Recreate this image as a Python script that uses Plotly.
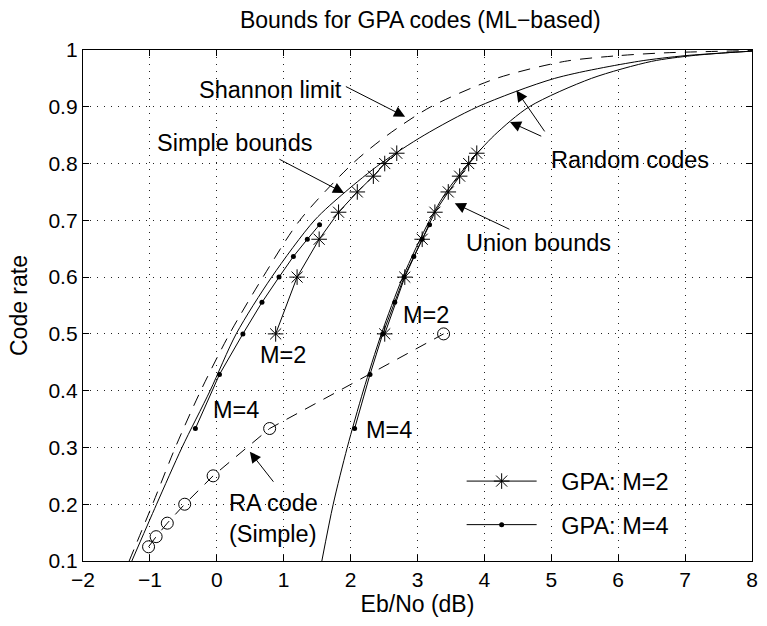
import plotly.graph_objects as go

# ---- data: Eb/No (dB) required for each code rate ----
# Shannon limit (binary-input AWGN channel)
shannon_rate = [0.10, 0.20, 0.30, 0.40, 0.50, 0.60, 0.70, 0.80, 0.85, 0.90, 0.95, 0.98, 0.99, 0.995, 0.999]
shannon_ebno = [-1.31, -0.96, -0.62, -0.24, 0.19, 0.69, 1.24, 2.03, 2.55, 3.20, 4.18, 5.20, 6.00, 6.70, 8.00]

# Random codes: simple bound and union bound
random_rate = [0.10, 0.20, 0.30, 0.40, 0.50, 0.60, 0.70, 0.75, 0.80, 0.85, 0.90, 0.95, 0.98, 0.99, 0.995, 0.998]
random_simple_ebno = [-1.27, -0.90, -0.52, -0.10, 0.29, 0.82, 1.46, 1.92, 2.45, 3.10, 3.90, 5.05, 6.30, 7.00, 7.60, 8.00]
random_union_ebno = [1.57, 1.74, 1.95, 2.19, 2.46, 2.78, 3.18, 3.43, 3.76, 4.15, 4.67, 5.60, 6.50, 7.10, 7.60, 8.00]

# GPA codes, M=2 (rate n/(n+2)) and M=4 (rate n/(n+4))
gpa2_rate = [2/4, 3/5, 4/6, 5/7, 6/8, 7/9, 8/10, 9/11]
gpa2_simple_ebno = [0.88, 1.20, 1.53, 1.82, 2.10, 2.34, 2.51, 2.69]
gpa2_union_ebno = [2.51, 2.81, 3.07, 3.26, 3.46, 3.63, 3.765, 3.886]

gpa4_rate = [2/6, 3/7, 4/8, 5/9, 6/10, 7/11, 8/12, 9/13]
gpa4_simple_ebno = [-0.32, 0.04, 0.39, 0.675, 0.93, 1.145, 1.353, 1.536]
gpa4_union_ebno = [2.06, 2.29, 2.48, 2.66, 2.80, 2.945, 3.07, 3.18]

# RA codes (simple bound)
ra_rate = [1/8, 1/7, 1/6, 1/5, 1/4, 1/3, 1/2]
ra_ebno = [-1.02, -0.907, -0.74, -0.48, -0.055, 0.79, 3.39]

x_ticks = [-2, -1, 0, 1, 2, 3, 4, 5, 6, 7, 8]
y_ticks = [0.1, 0.2, 0.3, 0.4, 0.5, 0.6, 0.7, 0.8, 0.9, 1.0]

FONT = "Liberation Sans, Arial, Helvetica, sans-serif"
BLACK = "#000000"
DASH = "12px,9px"
PAD = "\u00a0" * 3   # gap between legend sample and legend text
ANN = 23.5           # annotation / legend text size
AX = 23              # title and axis-title size
TICK = 21            # tick label size

fig = go.Figure()

fig.add_trace(go.Scatter(x=shannon_ebno, y=shannon_rate, mode="lines", showlegend=False,
                         line=dict(color=BLACK, width=1, dash=DASH, shape="spline", smoothing=0.8)))
fig.add_trace(go.Scatter(x=random_simple_ebno, y=random_rate, mode="lines", showlegend=False,
                         line=dict(color=BLACK, width=1, shape="spline", smoothing=0.8)))
fig.add_trace(go.Scatter(x=random_union_ebno, y=random_rate, mode="lines", showlegend=False,
                         line=dict(color=BLACK, width=1, shape="spline", smoothing=0.8)))

star = dict(symbol="asterisk-open", size=13, color=BLACK, line=dict(color=BLACK, width=1))
dot = dict(symbol="circle", size=5, color=BLACK)

fig.add_trace(go.Scatter(x=gpa2_simple_ebno, y=gpa2_rate, mode="lines+markers", name=PAD + "GPA: M=2",
                         legendgroup="m2", line=dict(color=BLACK, width=1), marker=star))
fig.add_trace(go.Scatter(x=gpa2_union_ebno, y=gpa2_rate, mode="lines+markers", name=PAD + "GPA: M=2",
                         legendgroup="m2", showlegend=False, line=dict(color=BLACK, width=1), marker=star))
fig.add_trace(go.Scatter(x=gpa4_simple_ebno, y=gpa4_rate, mode="lines+markers", name=PAD + "GPA: M=4",
                         legendgroup="m4", line=dict(color=BLACK, width=1), marker=dot))
fig.add_trace(go.Scatter(x=gpa4_union_ebno, y=gpa4_rate, mode="lines+markers", name=PAD + "GPA: M=4",
                         legendgroup="m4", showlegend=False, line=dict(color=BLACK, width=1), marker=dot))

fig.add_trace(go.Scatter(x=ra_ebno, y=ra_rate, mode="lines+markers", showlegend=False,
                         line=dict(color=BLACK, width=1, dash=DASH),
                         marker=dict(symbol="circle-open", size=12, color=BLACK, line=dict(width=1))))

# ---- annotations ----
arrows = [
    # (tail x, tail y, tip x, tip y)
    (1.907, 0.937, 2.815, 0.8825),   # Shannon limit
    (0.913, 0.809, 1.902, 0.748),    # Simple bounds
    (4.916, 0.854, 4.479, 0.9287),   # Random codes (upper)
    (4.872, 0.847, 4.383, 0.8732),   # Random codes (lower)
    (4.397, 0.683, 3.557, 0.730),    # Union bounds
    (0.864, 0.237, 0.494, 0.2925),   # RA code
]
for tx, ty, hx, hy in arrows:
    fig.add_annotation(x=hx, y=hy, ax=tx, ay=ty, xref="x", yref="y", axref="x", ayref="y",
                       text="", showarrow=True, arrowhead=2, arrowsize=2.2, arrowwidth=1,
                       arrowcolor=BLACK, standoff=0, startstandoff=0)

labels = [
    # (x, y, text, xanchor)
    (1.907, 0.9296, "Shannon limit", "right"),
    (-0.925, 0.8362, "Simple bounds", "left"),
    (4.961, 0.8063, "Random codes", "left"),
    (3.701, 0.660, "Union bounds", "left"),
    (0.147, 0.1757, "RA code<br>(Simple)", "left"),
    (0.617, 0.463, "M=2", "left"),
    (-0.08, 0.366, "M=4", "left"),
    (2.752, 0.533, "M=2", "left"),
    (2.199, 0.331, "M=4", "left"),
]
for x, y, t, xa in labels:
    fig.add_annotation(x=x, y=y, xref="x", yref="y", text=t, showarrow=False,
                       xanchor=xa, yanchor="middle", align="left",
                       font=dict(family=FONT, size=ANN, color=BLACK))

axis_common = dict(
    showline=True, linecolor=BLACK, linewidth=1.3, mirror="ticks",
    ticks="inside", ticklen=6, tickcolor=BLACK, tickwidth=1,
    showgrid=True, gridcolor="#222222", gridwidth=1, griddash="1px,6px",
    zeroline=False, tickfont=dict(family=FONT, size=TICK, color=BLACK),
)

fig.update_xaxes(range=[-2, 8], tickvals=x_ticks, **axis_common,
                 title=dict(text="Eb/No (dB)", font=dict(family=FONT, size=AX, color=BLACK), standoff=4))
fig.update_yaxes(range=[0.1, 1.0], tickvals=y_ticks, ticktext=[f"{v:g}" for v in y_ticks], **axis_common,
                 title=dict(text="Code rate", font=dict(family=FONT, size=AX, color=BLACK), standoff=14))

fig.update_layout(
    width=767, height=626,
    margin=dict(l=83, r=9, t=50, b=65),
    paper_bgcolor="white", plot_bgcolor="white",
    title=dict(text="Bounds for GPA codes (ML\u2212based)", x=0.548, xanchor="center",
               y=1 - 20 / 626, yanchor="middle", yref="container",
               font=dict(family=FONT, size=AX, color=BLACK)),
    legend=dict(x=0.566, y=0.199, xanchor="left", yanchor="top", bgcolor="rgba(0,0,0,0)",
                borderwidth=0, font=dict(family=FONT, size=ANN, color=BLACK),
                itemwidth=70, tracegroupgap=10, traceorder="grouped"),
    showlegend=True,
)

fig.write_html("out.html")
